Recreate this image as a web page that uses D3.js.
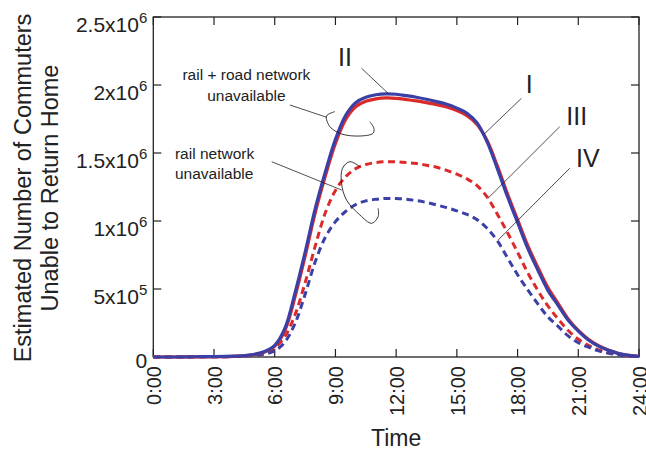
<!DOCTYPE html>
<html>
<head>
<meta charset="utf-8">
<script src="https://cdn.jsdelivr.net/npm/d3@7"></script>
<style>
  body { margin: 0; background: #fff; }
  svg { display: block; font-family: "Liberation Sans", Arial, sans-serif; }
</style>
</head>
<body>
<svg width="646" height="450"></svg>
<script>
// hours of the day
const hours = [0, 1, 2, 3, 4, 4.5, 5, 5.5, 6, 6.5, 7, 7.5, 8, 8.5, 9, 9.5, 10, 10.5, 11, 11.5,
  12, 12.5, 13, 13.5, 14, 14.5, 15, 15.5, 16, 16.5, 17, 17.5, 18, 18.5, 19, 19.5, 20, 20.5,
  21, 21.5, 22, 22.5, 23, 23.5, 24];

// commuters unable to return home, in millions
const seriesI = [0, 0, 0.001, 0.002, 0.005, 0.009, 0.018, 0.037, 0.08, 0.195, 0.44, 0.74, 1.06, 1.33, 1.57, 1.745,
  1.84, 1.88, 1.898, 1.905, 1.902, 1.893, 1.883, 1.87, 1.856, 1.838, 1.812, 1.775, 1.71, 1.59, 1.405, 1.2,
  1.01, 0.82, 0.66, 0.51, 0.395, 0.28, 0.195, 0.13, 0.083, 0.05, 0.026, 0.012, 0.004];
const seriesII = [0, 0, 0.002, 0.003, 0.006, 0.01, 0.02, 0.04, 0.085, 0.21, 0.47, 0.77, 1.09, 1.36, 1.6, 1.775,
  1.87, 1.91, 1.928, 1.935, 1.932, 1.922, 1.91, 1.895, 1.878, 1.858, 1.83, 1.792, 1.72, 1.58, 1.385, 1.18,
  0.99, 0.8, 0.64, 0.49, 0.38, 0.27, 0.19, 0.125, 0.08, 0.05, 0.025, 0.012, 0.004];
const seriesIII = [0, 0, 0.001, 0.002, 0.004, 0.008, 0.015, 0.032, 0.068, 0.15, 0.31, 0.545, 0.815, 1.06, 1.225, 1.325,
  1.385, 1.415, 1.43, 1.436, 1.435, 1.43, 1.423, 1.41, 1.395, 1.372, 1.345, 1.31, 1.26, 1.175, 1.05, 0.915,
  0.77, 0.62, 0.49, 0.375, 0.28, 0.195, 0.13, 0.085, 0.052, 0.032, 0.018, 0.008, 0.003];
const seriesIV = [0, 0, 0.001, 0.002, 0.003, 0.006, 0.012, 0.022, 0.045, 0.11, 0.245, 0.46, 0.7, 0.88, 0.995, 1.07,
  1.12, 1.148, 1.16, 1.166, 1.165, 1.16, 1.15, 1.136, 1.118, 1.098, 1.075, 1.048, 1.01, 0.945, 0.855, 0.73,
  0.605, 0.495, 0.39, 0.295, 0.225, 0.155, 0.105, 0.072, 0.045, 0.028, 0.015, 0.007, 0.003];

const xTicks = [0, 3, 6, 9, 12, 15, 18, 21, 24];
const xTickLabels = ["0:00", "3:00", "6:00", "9:00", "12:00", "15:00", "18:00", "21:00", "24:00"];
const yTicks = [0, 0.5, 1, 1.5, 2, 2.5];
const yTickMantissa = ["0", "5", "1", "1.5", "2", "2.5"];
const yTickExponent = ["", "5", "6", "6", "6", "6"];

const svg = d3.select("svg");
const marginLeft = 153.3;
const marginRight = 7;
const marginTop = 17;
const marginBottom = 93;
const width = 646;
const height = 450;

const x = d3.scaleLinear().domain([0, 24]).range([marginLeft, width - marginRight]);
const y = d3.scaleLinear().domain([0, 2.5]).range([height - marginBottom, marginTop]);

const blue = "#3a40a6";
const red = "#dc2a2a";
const ink = "#222";

// frame with inward ticks on all four sides
const frame = svg.append("g");
frame.append("rect")
  .attr("x", x(0)).attr("y", y(2.5))
  .attr("width", x(24) - x(0)).attr("height", y(0) - y(2.5))
  .attr("fill", "none").attr("stroke", ink).attr("stroke-width", 1.3);

const tickLen = 8;
frame.append("g").selectAll("line").data(xTicks).enter().append("line")
  .attr("x1", (d) => x(d)).attr("x2", (d) => x(d))
  .attr("y1", y(0)).attr("y2", y(0) - tickLen)
  .attr("stroke", ink).attr("stroke-width", 1.2);
frame.append("g").selectAll("line").data(xTicks).enter().append("line")
  .attr("x1", (d) => x(d)).attr("x2", (d) => x(d))
  .attr("y1", y(2.5)).attr("y2", y(2.5) + tickLen)
  .attr("stroke", ink).attr("stroke-width", 1.2);
frame.append("g").selectAll("line").data(yTicks).enter().append("line")
  .attr("x1", x(0)).attr("x2", x(0) + tickLen)
  .attr("y1", (d) => y(d)).attr("y2", (d) => y(d))
  .attr("stroke", ink).attr("stroke-width", 1.2);
frame.append("g").selectAll("line").data(yTicks).enter().append("line")
  .attr("x1", x(24)).attr("x2", x(24) - tickLen)
  .attr("y1", (d) => y(d)).attr("y2", (d) => y(d))
  .attr("stroke", ink).attr("stroke-width", 1.2);

// x tick labels, rotated
svg.append("g").selectAll("text").data(xTicks).enter().append("text")
  .attr("transform", (d) => `translate(${x(d) + 0.5},${y(0) + 9})rotate(-90)`)
  .attr("dy", "0.36em")
  .attr("text-anchor", "end")
  .attr("font-size", 20)
  .attr("fill", ink)
  .text((d, i) => xTickLabels[i]);

// y tick labels with superscript exponents
const yLab = svg.append("g").selectAll("text").data(yTicks).enter().append("text")
  .attr("x", x(0) - 6)
  .attr("y", (d, i) => y(d) + (i === 0 ? 11 : 15))
  .attr("text-anchor", "end")
  .attr("font-size", 21)
  .attr("fill", ink);
yLab.append("tspan").text((d, i) => yTickMantissa[i] + (yTickExponent[i] ? "x10" : ""));
yLab.append("tspan")
  .attr("font-size", 15)
  .attr("dy", -9)
  .text((d, i) => yTickExponent[i]);

// axis titles
svg.append("text")
  .attr("x", x(12)).attr("y", 446)
  .attr("text-anchor", "middle").attr("font-size", 23).attr("fill", ink)
  .text("Time");
const yTitle = svg.append("text")
  .attr("transform", `translate(0,${(y(0) + y(2.5)) / 2 + 1})rotate(-90)`)
  .attr("text-anchor", "middle").attr("font-size", 23.5).attr("fill", ink);
yTitle.append("tspan").attr("x", 0).attr("y", 31).text("Estimated Number of Commuters");
yTitle.append("tspan").attr("x", 0).attr("y", 58).text("Unable to Return Home");

// curves
const line = d3.line()
  .x((d) => x(d[0]))
  .y((d) => Math.min(y(d[1]), y(0)))
  .curve(d3.curveCatmullRom.alpha(0.5));
const curves = [
  { values: seriesIII, color: red, dash: "7,4.5", w: 3 },
  { values: seriesIV, color: blue, dash: "7,4.5", w: 3 },
  { values: seriesI, color: red, dash: null, w: 3.2 },
  { values: seriesII, color: blue, dash: null, w: 3.2 },
];
svg.append("g").selectAll("path").data(curves).enter().append("path")
  .attr("fill", "none")
  .attr("stroke", (d) => d.color)
  .attr("stroke-width", (d) => d.w)
  .attr("stroke-dasharray", (d) => d.dash)
  .attr("d", (d) => line(hours.map((h, i) => [h, d.values[i]])));

// annotations, placed in data units (hours, millions)
const numerals = [
  { text: "II", at: [9.47, 2.14], from: [10.29, 2.123], to: [11.6, 1.939] },
  { text: "I", at: [18.58, 1.94], from: [18.19, 1.902], to: [16.3, 1.632] },
  { text: "III", at: [20.92, 1.706], from: [20.08, 1.693], to: [16.54, 1.167] },
  { text: "IV", at: [21.47, 1.397], from: [20.58, 1.388], to: [17.04, 0.86] },
];
const ann = svg.append("g");
ann.selectAll("text").data(numerals).enter().append("text")
  .attr("x", (d) => x(d.at[0])).attr("y", (d) => y(d.at[1]))
  .attr("text-anchor", "middle").attr("font-size", 25).attr("fill", ink)
  .text((d) => d.text);
ann.selectAll("line").data(numerals).enter().append("line")
  .attr("x1", (d) => x(d.from[0])).attr("y1", (d) => y(d.from[1]))
  .attr("x2", (d) => x(d.to[0])).attr("y2", (d) => y(d.to[1]))
  .attr("stroke", ink).attr("stroke-width", 0.8);

const groupLabels = [
  { lines: ["rail + road network", "unavailable"], at: [4.6, 2.037], step: 0.155, anchor: "middle" },
  { lines: ["rail network", "unavailable"], at: [1.07, 1.456], step: 0.147, anchor: "start" },
];
groupLabels.forEach((g) => {
  g.lines.forEach((s, i) => {
    ann.append("text")
      .attr("x", x(g.at[0])).attr("y", y(g.at[1] - i * g.step))
      .attr("text-anchor", g.anchor).attr("font-size", 15.5).attr("fill", ink)
      .text(s);
  });
});

const leaders = [
  { line: [[6.75, 1.853], [8.56, 1.763]],
    loop: [[8.97, 1.804], [8.56, 1.772], [8.73, 1.693], [9.3, 1.64], [10.21, 1.625], [10.86, 1.645], [10.9, 1.682], [10.7, 1.73]] },
  { line: [[5.85, 1.436], [9.3, 1.228]],
    loop: [[10.21, 1.399], [9.71, 1.436], [9.35, 1.388], [9.3, 1.277], [9.55, 1.154], [10.21, 1.044], [10.79, 0.983], [11.11, 1.032], [11.11, 1.093]] },
];
const loopLine = d3.line().x((d) => x(d[0])).y((d) => y(d[1])).curve(d3.curveCatmullRom);
leaders.forEach((l) => {
  ann.append("path").attr("fill", "none").attr("stroke", ink).attr("stroke-width", 0.8)
    .attr("d", d3.line().x((d) => x(d[0])).y((d) => y(d[1]))(l.line));
  ann.append("path").attr("fill", "none").attr("stroke", ink).attr("stroke-width", 0.9)
    .attr("d", loopLine(l.loop));
});
</script>
</body>
</html>
